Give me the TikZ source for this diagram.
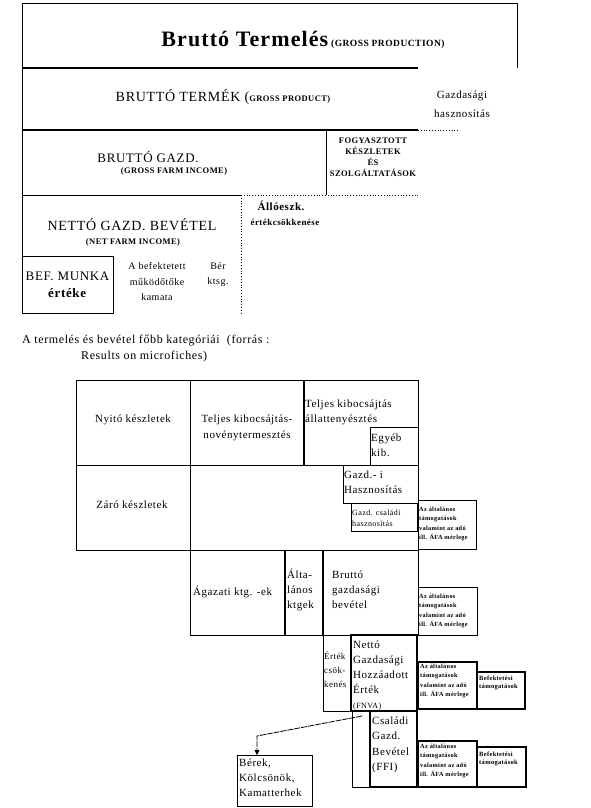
\documentclass[tikz,border=0pt]{standalone}
\usepackage{fontspec}
\setmainfont{Liberation Serif}[LetterSpace=5]
\usetikzlibrary{positioning, arrows.meta}

\tikzset{
  cell/.style={draw, line width=0.8pt, inner sep=0pt, outer sep=0pt, anchor=north west},
  vastag/.style={cell, line width=2.4pt},
  lbl/.style={inner sep=0pt, align=left, anchor=west, font=\fontsize{11}{15}\selectfont},
  kozep/.style={inner sep=0pt, align=center},
  apro/.style={lbl, font=\bfseries\fontsize{6.3}{9.5}\selectfont},
  felso/.style={line width=1.6pt},
  pontozott/.style={line width=0.8pt, dotted}
}

\begin{document}
\begin{tikzpicture}[x=1pt, y=-1pt, line join=miter]
  \useasboundingbox (0,0) rectangle (591,808);

  % --- felső rész: termelési sávok ---
  \draw[line width=0.8pt] (22,313) -- (22,3) -- (517,3) -- (517,68);
  \draw[felso] (22,68) -- (418,68);
  \draw[felso] (22,130) -- (418,130);
  \draw[pontozott] (418,130) -- (458,130);
  \draw[line width=0.8pt] (326,130) -- (326,195);
  \draw[line width=0.8pt] (22,195) -- (241,195);
  \draw[pontozott] (241,195) -- (418,195);
  \draw[pontozott] (241,195) -- (241,313);
  \node[cell, minimum width=91pt, minimum height=57pt] (befmunka) at (22,256) {};

  \node[kozep, font=\bfseries\fontsize{22}{26}\selectfont] (termeles) at (303,40)
    {Bruttó Termelés{\fontsize{9.5}{11}\selectfont\ (GROSS PRODUCTION)}};
  \node[kozep, font=\fontsize{14}{17}\selectfont] (termek) at (223,97)
    {BRUTTÓ TERMÉK ({\bfseries\fontsize{8.5}{10}\selectfont GROSS PRODUCT)}};
  \node[kozep, font=\fontsize{11}{19}\selectfont] (haszn) at (462,104) {Gazdasági\\hasznosítás};
  \node[kozep, font=\fontsize{13}{15}\selectfont] (bgazd) at (148,157) {BRUTTÓ GAZD.};
  \node[kozep, font=\bfseries\fontsize{8.5}{10}\selectfont] (bgazdeng) at (174,171) {(GROSS FARM INCOME)};
  \node[kozep, font=\bfseries\fontsize{8.5}{11}\selectfont] (fogy) at (373,157)
    {FOGYASZTOTT\\KÉSZLETEK\\ÉS\\SZOLGÁLTATÁSOK};
  \node[kozep, font=\bfseries\fontsize{11}{13}\selectfont] (allo) at (281,206) {Állóeszk.};
  \node[kozep, font=\bfseries\fontsize{9}{11}\selectfont] (allo2) at (285,222) {értékcsökkenése};
  \node[kozep, font=\fontsize{14}{17}\selectfont] (netto) at (132,225) {NETTÓ GAZD. BEVÉTEL};
  \node[kozep, font=\bfseries\fontsize{8.5}{10}\selectfont] (nettoeng) at (133,242) {(NET FARM INCOME)};
  \node[kozep, font=\fontsize{13}{17}\selectfont] (befszoveg) at (befmunka.center)
    {BEF. MUNKA\\\textbf{értéke}};
  \node[kozep, font=\fontsize{10}{15.5}\selectfont] (kamat) at (157,282)
    {A befektetett\\működőtőke\\kamata};
  \node[kozep, font=\fontsize{10}{15}\selectfont] (ber) at (218,275) {Bér\\ktsg.};

  \node[lbl, font=\fontsize{12}{15}\selectfont] (cim1) at (22,341) {A termelés és bevétel főbb kategóriái~ (forrás :};
  \node[lbl, font=\fontsize{12}{15}\selectfont] (cim2) at (81,357) {Results on microfiches)};

  % --- alsó rész: kategóriák ---
  \node[cell, minimum width=114pt, minimum height=85pt] (nyito) at (76,380) {};
  \node[cell, minimum width=114pt, minimum height=85pt, right=0pt of nyito.north east, anchor=north west] (noveny) {};
  \node[cell, minimum width=114pt, minimum height=85pt, right=0pt of noveny.north east, anchor=north west] (allat) {};
  \node[cell, minimum width=48pt, minimum height=38pt] (egyeb) at (370,427) {};
  \node[cell, minimum width=114pt, minimum height=85pt, below=0pt of nyito.south west, anchor=north west] (zaro) {};
  \node[cell, minimum width=228pt, minimum height=85pt, right=0pt of zaro.north east, anchor=north west] (termkoz) {};
  \node[cell, minimum width=75pt, minimum height=38pt] (gazdi) at (343,465) {};
  \node[cell, minimum width=66pt, minimum height=28pt] (csaladi) at (351,503) {};
  \node[cell, minimum width=58pt, minimum height=49pt] (tam1) at (418,500) {};
  \draw[felso] (noveny.north east) -- (noveny.south east);

  \node[cell, minimum width=95pt, minimum height=85pt] (agazati) at (190,550) {};
  \node[cell, minimum width=38pt, minimum height=85pt, right=0pt of agazati.north east, anchor=north west] (altal) {};
  \node[cell, minimum width=95pt, minimum height=85pt, right=0pt of altal.north east, anchor=north west] (bgb) {};
  \draw[felso] (agazati.north east) -- (agazati.south east);
  \draw[felso] (altal.north east) -- (altal.south east);
  \node[cell, minimum width=59pt, minimum height=48pt] (tam2) at (418,587) {};

  \node[cell, minimum width=28pt, minimum height=76pt] (ertekcs) at (323,635) {};
  \node[vastag, minimum width=66pt, minimum height=76pt] (fnva) at (351,635) {};
  \node[vastag, minimum width=59pt, minimum height=47pt] (tam3) at (418,662) {};
  \node[vastag, minimum width=48pt, minimum height=37pt] (bef1) at (477,672) {};
  \node[cell, minimum width=18pt, minimum height=76pt] (sav) at (352,711) {};
  \node[vastag, minimum width=47pt, minimum height=76pt] (ffi) at (370,711) {};
  \node[vastag, minimum width=59pt, minimum height=46pt] (tam4) at (418,741) {};
  \node[vastag, minimum width=49pt, minimum height=40pt] (bef2) at (477,747) {};
  \node[cell, minimum width=75pt, minimum height=51pt] (berek) at (237,755) {};

  \node[kozep, font=\fontsize{11}{15}\selectfont] (nyitotxt) at (133,420) {Nyitó készletek};
  \node[kozep, font=\fontsize{11}{16}\selectfont] (novenytxt) at (247,428)
    {Teljes kibocsájtás-\\novénytermesztés};
  \node[lbl] (allattxt) at (305,412) {Teljes kibocsájtás\\állattenyésztés};
  \node[lbl] (egyebtxt) at (371,445) {Egyéb\\kib.};
  \node[lbl] (gazditxt) at (344,482) {Gazd.- i\\Hasznosítás};
  \node[lbl, font=\fontsize{8}{11}\selectfont] (csaladitxt) at (352,518) {Gazd. családi\\hasznosítás};
  \node[kozep, font=\fontsize{11}{15}\selectfont] (zarotxt) at (132,505) {Záró készletek};

  \node[lbl] (agazatitxt) at (193,592) {Ágazati ktg. -ek};
  \node[lbl] (altaltxt) at (287,590) {Álta-\\lános\\ktgek};
  \node[lbl] (bgbtxt) at (332,590) {Bruttó\\gazdasági\\bevétel};
  \node[lbl, font=\fontsize{9}{14}\selectfont] (ertekcstxt) at (324,670) {Érték\\csök-\\kenés};
  \node[lbl] (fnvatxt) at (353,676)
    {Nettó\\Gazdasági\\Hozzáadott\\Érték\\{\fontsize{8}{10}\selectfont(FNVA)}};
  \node[lbl, font=\fontsize{11}{15.5}\selectfont] (ffitxt) at (372,745) {Családi\\Gazd.\\Bevétel\\(FFI)};
  \node[lbl] (berektxt) at (239,778) {Bérek,\\Kölcsönök,\\Kamatterhek};

  % támogatások
  \node[apro] (tam1txt) at (419,524) {Az általános\\támogatások\\valamint az adó\\ill. ÁFA mérlege};
  \node[apro] (tam2txt) at (419,611) {Az általános\\támogatások\\valamint az adó\\ill. ÁFA mérlege};
  \node[apro] (tam3txt) at (420,681) {Az általános\\támogatások\\valamint az adó\\ill. ÁFA mérlege};
  \node[apro] (tam4txt) at (420,761) {Az általános\\támogatások\\valamint az adó\\ill. ÁFA mérlege};
  \node[apro, font=\bfseries\fontsize{6.5}{8.5}\selectfont] (bef1txt) at (479,683) {Befektetési\\támogatások};
  \node[apro, font=\bfseries\fontsize{6.5}{8.5}\selectfont] (bef2txt) at (479,759) {Befektetési\\támogatások};

  \coordinate (indul) at (362,716);
  \coordinate (tores) at (257,736);
  \draw[line width=0.8pt, dash pattern=on 6pt off 1pt, -{Triangle[length=5pt, width=5pt]}]
    (indul) -- (tores) -- (tores |- berek.north);

\end{tikzpicture}
\end{document}
